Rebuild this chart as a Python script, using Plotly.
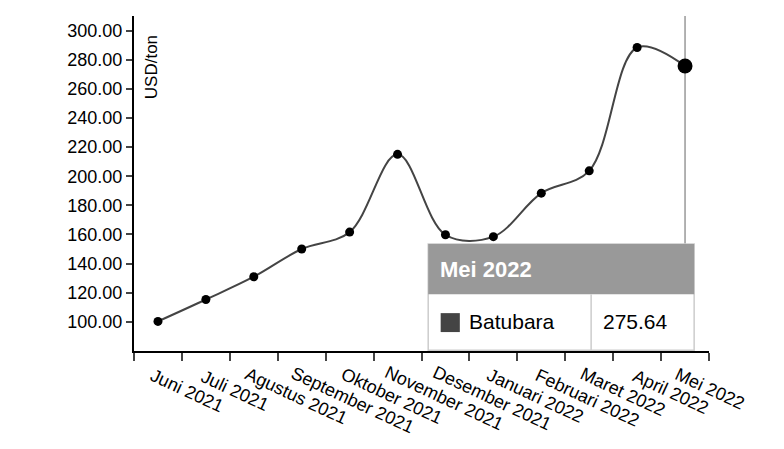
import plotly.graph_objects as go

months = ["Juni 2021", "Juli 2021", "Agustus 2021", "September 2021", "Oktober 2021",
          "November 2021", "Desember 2021", "Januari 2022", "Februari 2022",
          "Maret 2022", "April 2022", "Mei 2022"]
batubara = [100.33, 115.35, 130.99, 150.03, 161.63, 215.01, 159.79, 158.50,
            188.38, 203.69, 288.40, 275.64]
y_ticks = [100, 120, 140, 160, 180, 200, 220, 240, 260, 280, 300]

xs = list(range(len(months)))
fnt = dict(family="Arial, Liberation Sans", size=18, color="black")

fig = go.Figure()
fig.add_trace(go.Scatter(x=xs, y=batubara, mode="lines",
                         line=dict(shape="spline", smoothing=1.0, color="#444", width=2),
                         hoverinfo="skip"))
fig.add_trace(go.Scatter(x=xs[:-1], y=batubara[:-1], mode="markers",
                         marker=dict(color="black", size=9), hoverinfo="skip"))
fig.add_trace(go.Scatter(x=[xs[-1]], y=[batubara[-1]], mode="markers",
                         marker=dict(color="black", size=15), hoverinfo="skip"))

# hover line
fig.add_shape(type="line", x0=xs[-1], x1=xs[-1], y0=80, y1=310, line=dict(color="#999", width=1.5), layer="below")

# x labels (rotated, starting at each point)
for i, m in enumerate(months):
    w = len(m) * 9.2
    fig.add_annotation(x=i, y=0, xref="x", yref="paper", text=m, showarrow=False,
                       textangle=25, font=fnt, xanchor="center", yanchor="middle",
                       xshift=-8 + w / 2 * 0.906, yshift=-22 - w / 2 * 0.423)

# y axis title
fig.add_annotation(x=-0.12, y=275, text="USD/ton", textangle=-90, showarrow=False,
                   font=dict(family="Arial, Liberation Sans", size=17, color="black"))

# tooltip
fig.add_shape(type="rect", x0=5.64, x1=11.19, y0=80.5, y1=153.5, xref="x", yref="y",
              fillcolor="white", line=dict(color="#ccc", width=1.5))
fig.add_shape(type="rect", x0=5.64, x1=11.19, y0=119, y1=153.5, xref="x", yref="y",
              fillcolor="#999", line=dict(width=0))
fig.add_shape(type="line", x0=9.04, x1=9.04, y0=80.5, y1=119, line=dict(color="#ccc", width=1.5))
fig.add_shape(type="rect", x0=5.9, x1=6.3, y0=93, y1=106, fillcolor="#444", line=dict(width=0))
fig.add_annotation(x=5.85, y=136, text="<b>Mei 2022</b>", showarrow=False, xanchor="left",
                   font=dict(family="Arial, Liberation Sans", size=22, color="white"))
fig.add_annotation(x=6.45, y=100, text="Batubara", showarrow=False, xanchor="left",
                   font=dict(family="Arial, Liberation Sans", size=21, color="black"))
fig.add_annotation(x=9.25, y=100, text="275.64", showarrow=False, xanchor="left",
                   font=dict(family="Arial, Liberation Sans", size=21, color="black"))

fig.update_xaxes(range=[-0.5, 11.5], tickvals=[i - 0.5 for i in range(13)], ticktext=[""] * 13,
                 ticks="outside", ticklen=8, tickwidth=2, showline=True, linecolor="black",
                 linewidth=2, showgrid=False, zeroline=False)
fig.update_yaxes(range=[80, 310], tickvals=y_ticks, ticktext=["%.2f" % v for v in y_ticks],
                 ticks="outside", ticklen=6, tickwidth=2, showline=True, linecolor="black",
                 linewidth=2, showgrid=False, zeroline=False, tickfont=fnt)
fig.update_layout(width=784, height=449, showlegend=False, plot_bgcolor="white",
                  paper_bgcolor="white", margin=dict(l=126, r=83, t=8, b=106))
fig.write_html("out.html")
